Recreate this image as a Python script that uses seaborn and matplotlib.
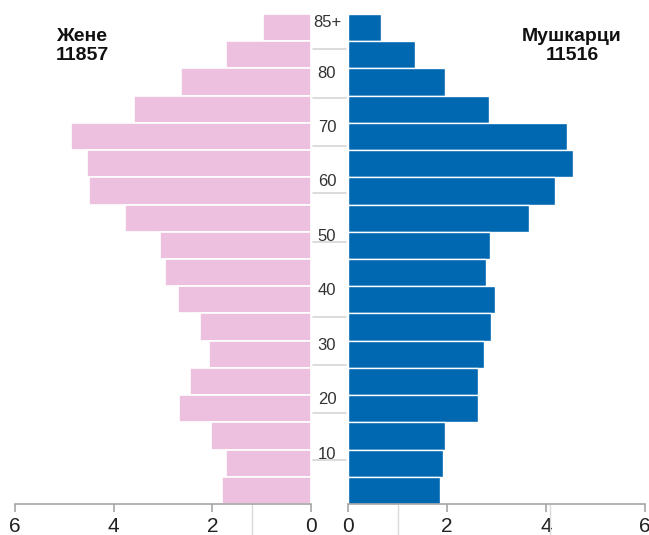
import matplotlib
matplotlib.use("Agg")
import matplotlib.pyplot as plt
import matplotlib.transforms as mtransforms
import pandas as pd
import seaborn as sns

# age groups, top (oldest) to bottom (youngest)
age_groups = ["85+", "80-84", "75-79", "70-74", "65-69", "60-64", "55-59",
              "50-54", "45-49", "40-44", "35-39", "30-34", "25-29", "20-24",
              "15-19", "10-14", "5-9", "0-4"]
women = [0.97, 1.73, 2.63, 3.58, 4.87, 4.54, 4.51, 3.78, 3.07, 2.95,
         2.70, 2.24, 2.07, 2.46, 2.68, 2.03, 1.73, 1.81]
men = [0.66, 1.34, 1.95, 2.85, 4.43, 4.55, 4.19, 3.66, 2.87, 2.78,
       2.96, 2.88, 2.75, 2.63, 2.63, 1.95, 1.92, 1.86]
women_total = 11857
men_total = 11516

age_labels = ["80", "70", "60", "50", "40", "30", "20", "10"]
x_ticks = [0, 2, 4, 6]
# faint guide lines in the centre strip (in bar-index units)
guide_lines = [0.79, 2.59, 4.35, 6.08, 7.88, 10.64, 12.40, 14.17, 15.90]

PINK = "#ECC0DE"
BLUE = "#0067B1"
AXIS_GREY = "#A6A6A6"

sns.set_style("white")
plt.rcParams["font.family"] = ["Liberation Sans", "DejaVu Sans"]

df = pd.DataFrame({"age": age_groups, "women": women, "men": men})

W, H = 649, 535
fig = plt.figure(figsize=(W / 100, H / 100), dpi=100)
bottom, top = 1 - 504 / H, 1 - 14 / H
ax_l = fig.add_axes([15 / W, bottom, (311 - 15) / W, top - bottom])
ax_r = fig.add_axes([348.3 / W, bottom, (645 - 348.3) / W, top - bottom])

sns.barplot(data=df, x="women", y="age", order=age_groups, color=PINK,
            width=1, edgecolor="white", linewidth=1.2, saturation=1, ax=ax_l)
sns.barplot(data=df, x="men", y="age", order=age_groups, color=BLUE,
            width=1, edgecolor="white", linewidth=1.0, saturation=1, ax=ax_r)

ax_l.set_xlim(6, 0)
ax_r.set_xlim(0, 6)

for ax in (ax_l, ax_r):
    ax.set_ylim(len(age_groups) - 0.5, -0.5)
    ax.set_xlabel("")
    ax.set_ylabel("")
    ax.set_yticks([])
    ax.set_xticks(x_ticks)
    ax.set_xticklabels([str(t) for t in x_ticks])
    for s in ("top", "left", "right"):
        ax.spines[s].set_visible(False)
    ax.spines["bottom"].set_color(AXIS_GREY)
    ax.spines["bottom"].set_linewidth(1.2)
    ax.tick_params(axis="x", which="both", bottom=True)
    ax.tick_params(axis="x", which="major", direction="out", length=6,
                   width=1.2, color=AXIS_GREY, labelsize=15,
                   labelcolor="#222222", pad=3)
    ax.tick_params(axis="x", which="minor", direction="out", length=32,
                   width=1, color="#DADADA")
    ax.grid(False)

ax_l.set_xticks([1.2], minor=True)
ax_r.set_xticks([1.0, 4.07], minor=True)

# centre age labels and guide lines
trans = mtransforms.blended_transform_factory(fig.transFigure, ax_r.transData)
for lab in age_labels:
    j = (85 - int(lab)) / 5
    ax_r.text(327 / W, j + 0.5 + 0.17, lab, transform=trans, ha="center",
              va="center", fontsize=12, color="#333333")
ax_r.text(327 / W, -0.2, "85+", transform=trans, ha="center", va="center",
          fontsize=12, color="#333333")
for g in guide_lines:
    ax_r.plot([312.5 / W, 346 / W], [g, g], transform=trans, color="#D6D6D6",
              lw=1.2, clip_on=False)

fig.text(82 / W, 1 - 28 / H, f"Жене\n{women_total}", ha="center", va="top",
         fontsize=14, fontweight="bold", linespacing=1.15, color="#111111")
fig.text(572 / W, 1 - 28 / H, f"Мушкарци\n{men_total}", ha="center", va="top",
         fontsize=14, fontweight="bold", linespacing=1.15, color="#111111")

fig.savefig("out.png", dpi=100)
